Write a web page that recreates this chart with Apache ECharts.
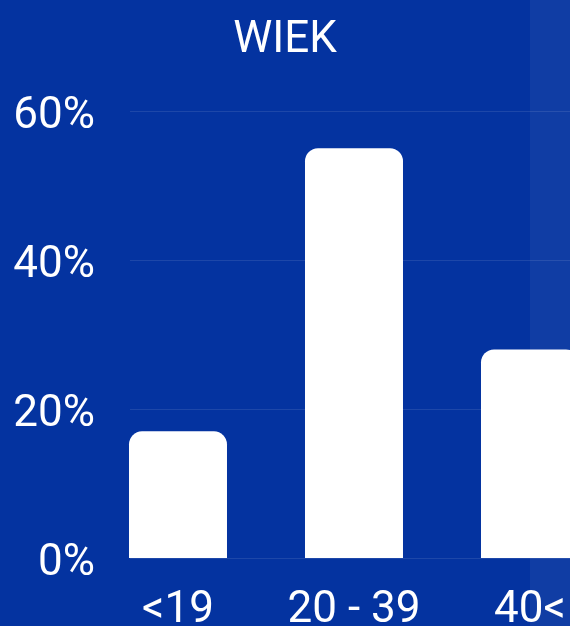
<!DOCTYPE html>
<html>
<head>
<meta charset="utf-8">
<script src="https://cdn.jsdelivr.net/npm/echarts@6/dist/echarts.min.js"></script>
<style>
html,body{margin:0;padding:0;background:#0433a0;}
#c{width:570px;height:626px;}
</style>
</head>
<body>
<div id="c"></div>
<script>
const titleText = 'WIEK';
const categories = ['<19', '20 - 39', '40<'];
const values = [17, 55, 28];
const yTicks = [0, 20, 40, 60];

const chart = echarts.init(document.getElementById('c'), null, {renderer: 'canvas'});
const idx = categories.map((_, i) => i);
const font = 'Roboto';
chart.setOption({
  backgroundColor: '#0433a0',
  animation: false,
  title: {
    text: titleText,
    left: 'center',
    top: 14,
    textStyle: {color: '#ffffff', fontSize: 44, fontWeight: 'normal', fontFamily: font}
  },
  graphic: [{
    type: 'rect',
    shape: {x: 530, y: 0, width: 40, height: 626},
    style: {fill: 'rgba(255,255,255,0.05)'},
    z: -10,
    silent: true
  }],
  grid: {left: 130, right: 0, top: 111, bottom: 68, containLabel: false, outerBoundsMode: 'none'},
  xAxis: {
    type: 'value',
    min: -0.2727,
    max: 2.2273,
    axisLine: {show: false},
    axisTick: {show: false},
    splitLine: {show: false},
    axisLabel: {
      customValues: idx,
      formatter: v => categories[Math.round(v)] ?? '',
      color: '#ffffff',
      fontSize: 44,
      fontFamily: font,
      margin: 31
    }
  },
  yAxis: {
    type: 'value',
    min: 0,
    max: 60,
    interval: 20,
    axisLine: {show: false},
    axisTick: {show: false},
    axisLabel: {
      customValues: yTicks,
      formatter: v => '{a|' + v + '%}',
      margin: 35,
      rich: {
        a: {color: '#ffffff', fontSize: 44, fontFamily: font, padding: [12, 0, 0, 0]}
      }
    },
    splitLine: {lineStyle: {color: 'rgba(255,255,255,0.1)', width: 1}}
  },
  series: [{
    type: 'bar',
    data: idx.map(i => [i, values[i]]),
    barWidth: 98,
    itemStyle: {color: '#ffffff', borderRadius: [13, 13, 0, 0]},
    z: 2
  }]
});
</script>
</body>
</html>
